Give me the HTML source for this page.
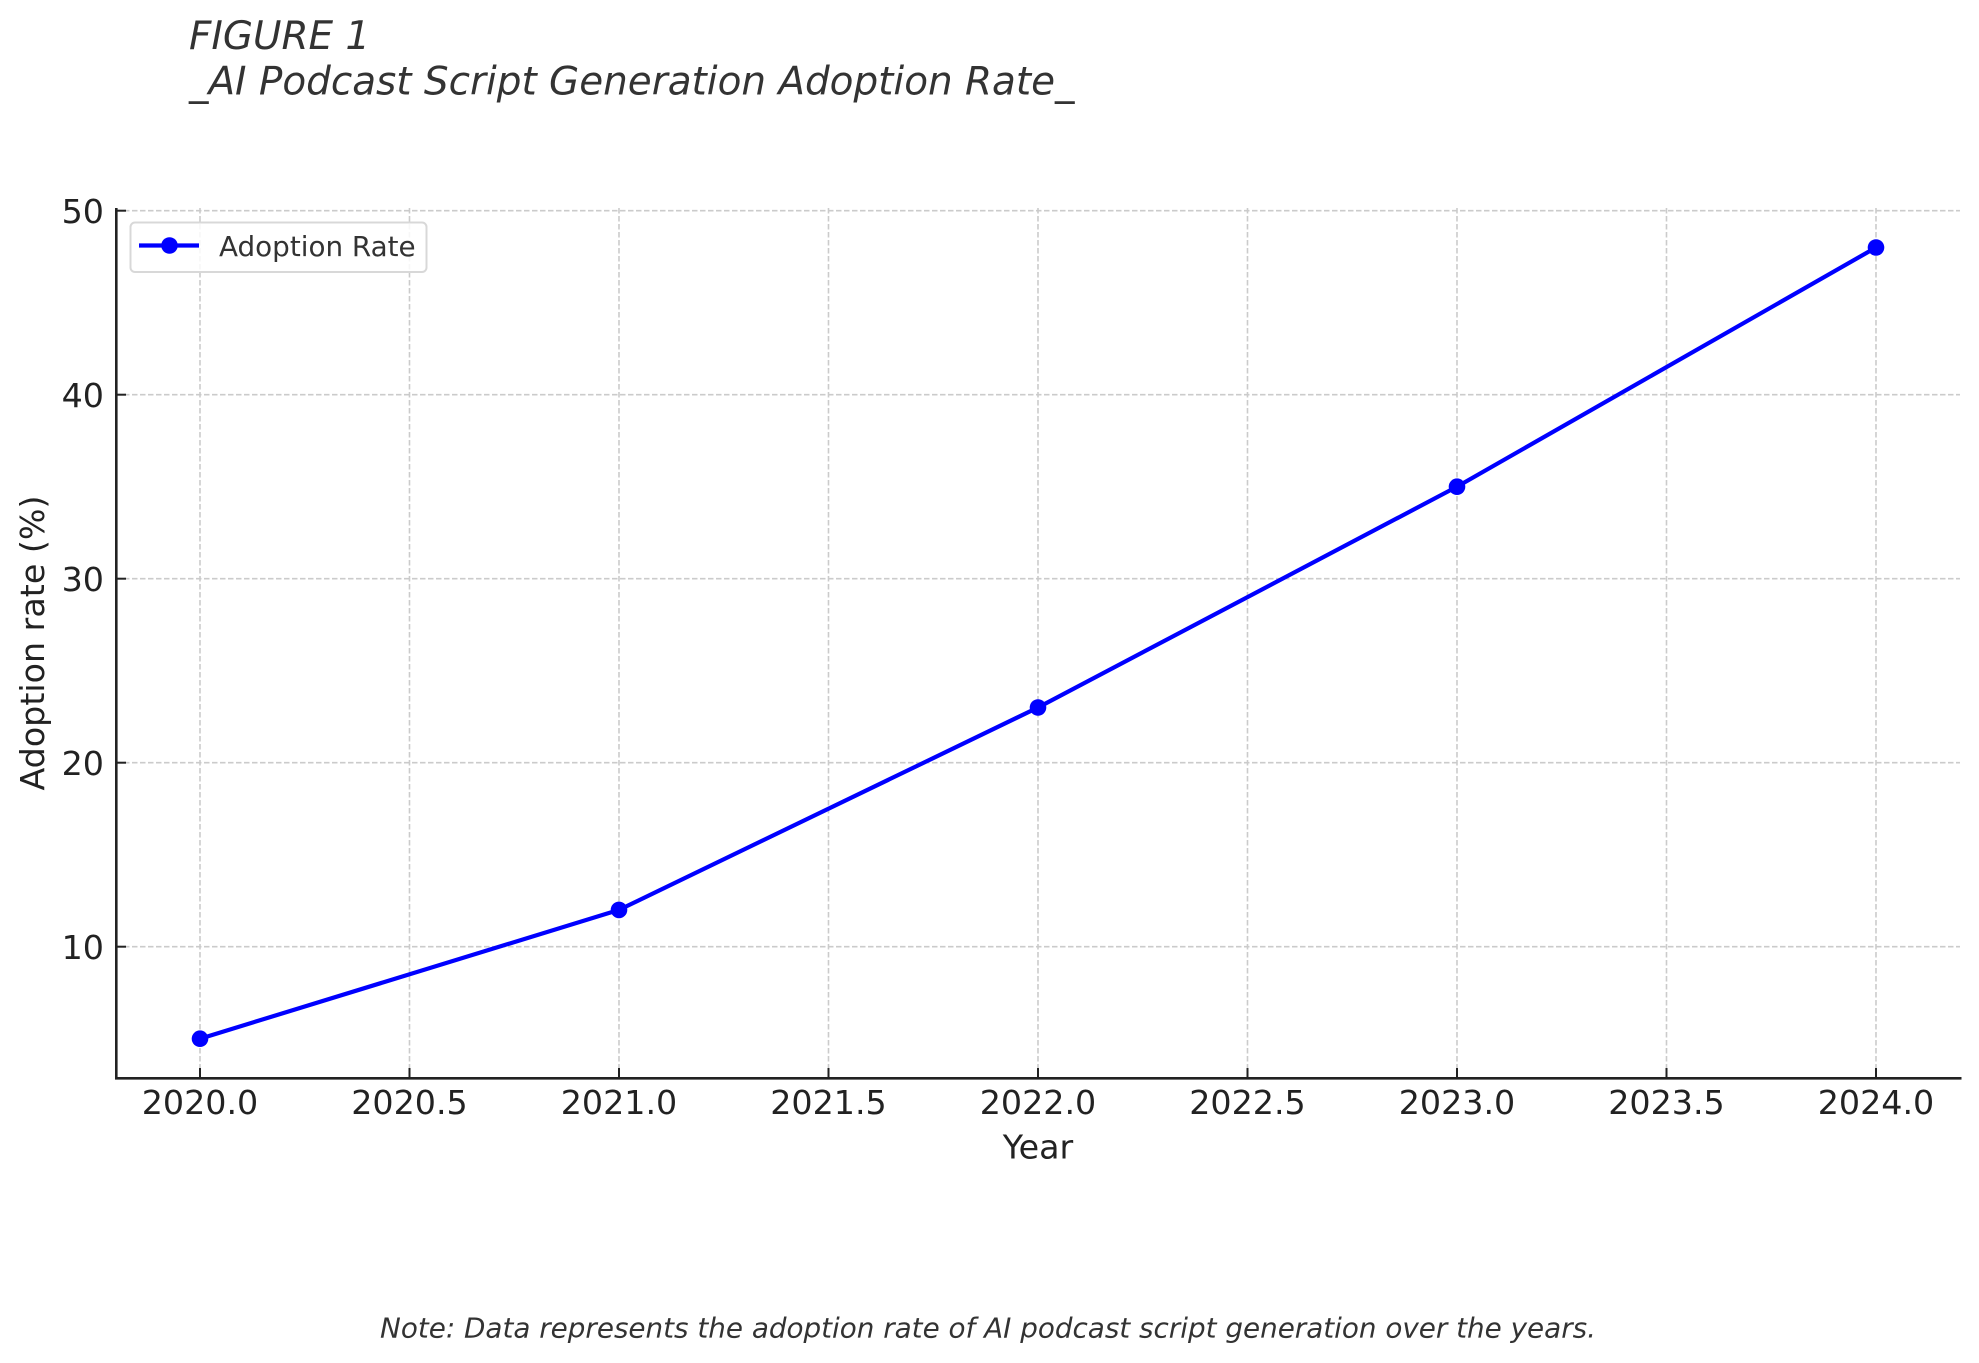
<!DOCTYPE html>
<html>
<head>
<meta charset="utf-8">
<style>
  html, body { margin: 0; padding: 0; background: #ffffff; }
  body { width: 1979px; height: 1363px; overflow: hidden; }
  svg { display: block; }
  text { font-family: "DejaVu Sans", "Liberation Sans", sans-serif; }
</style>
</head>
<body>
<svg width="1979" height="1363" viewBox="0 0 1979 1363" xmlns="http://www.w3.org/2000/svg">
  <rect x="0" y="0" width="1979" height="1363" fill="#ffffff"/>

  <!-- Title -->
  <text x="189" y="48.8" font-size="38.9" font-style="italic" fill="#333333">FIGURE 1</text>
  <text x="189" y="94.3" font-size="38.9" font-style="italic" fill="#333333">_AI Podcast Script Generation Adoption Rate_</text>

  <!-- Grid lines -->
  <g stroke="#cbcbcb" stroke-width="1.6" stroke-dasharray="5.5 2.5" fill="none">
    <line x1="116" y1="210.7" x2="1960" y2="210.7"/>
    <line x1="116" y1="394.7" x2="1960" y2="394.7"/>
    <line x1="116" y1="578.7" x2="1960" y2="578.7"/>
    <line x1="116" y1="762.7" x2="1960" y2="762.7"/>
    <line x1="116" y1="946.7" x2="1960" y2="946.7"/>
    <line x1="200" y1="208" x2="200" y2="1078"/>
    <line x1="409.5" y1="208" x2="409.5" y2="1078"/>
    <line x1="619" y1="208" x2="619" y2="1078"/>
    <line x1="828.5" y1="208" x2="828.5" y2="1078"/>
    <line x1="1038" y1="208" x2="1038" y2="1078"/>
    <line x1="1247.5" y1="208" x2="1247.5" y2="1078"/>
    <line x1="1457" y1="208" x2="1457" y2="1078"/>
    <line x1="1666.5" y1="208" x2="1666.5" y2="1078"/>
    <line x1="1876" y1="208" x2="1876" y2="1078"/>
  </g>

  <!-- Spines -->
  <line x1="116.3" y1="208" x2="116.3" y2="1079.5" stroke="#222222" stroke-width="2.6"/>
  <line x1="115" y1="1078.3" x2="1961.5" y2="1078.3" stroke="#222222" stroke-width="2.6"/>

  <!-- Ticks (inward) -->
  <g stroke="#222222" stroke-width="2">
    <line x1="200" y1="1078" x2="200" y2="1068"/>
    <line x1="409.5" y1="1078" x2="409.5" y2="1068"/>
    <line x1="619" y1="1078" x2="619" y2="1068"/>
    <line x1="828.5" y1="1078" x2="828.5" y2="1068"/>
    <line x1="1038" y1="1078" x2="1038" y2="1068"/>
    <line x1="1247.5" y1="1078" x2="1247.5" y2="1068"/>
    <line x1="1457" y1="1078" x2="1457" y2="1068"/>
    <line x1="1666.5" y1="1078" x2="1666.5" y2="1068"/>
    <line x1="1876" y1="1078" x2="1876" y2="1068"/>

    <line x1="116" y1="210.7" x2="126" y2="210.7"/>
    <line x1="116" y1="394.7" x2="126" y2="394.7"/>
    <line x1="116" y1="578.7" x2="126" y2="578.7"/>
    <line x1="116" y1="762.7" x2="126" y2="762.7"/>
    <line x1="116" y1="946.7" x2="126" y2="946.7"/>
  </g>

  <!-- X tick labels -->
  <g font-size="33.3" fill="#222222" text-anchor="middle">
    <text x="200" y="1114">2020.0</text>
    <text x="409.5" y="1114">2020.5</text>
    <text x="619" y="1114">2021.0</text>
    <text x="828.5" y="1114">2021.5</text>
    <text x="1038" y="1114">2022.0</text>
    <text x="1247.5" y="1114">2022.5</text>
    <text x="1457" y="1114">2023.0</text>
    <text x="1666.5" y="1114">2023.5</text>
    <text x="1876" y="1114">2024.0</text>
  </g>

  <!-- Y tick labels -->
  <g font-size="33.3" fill="#222222" text-anchor="end">
    <text x="104" y="222.8">50</text>
    <text x="104" y="406.8">40</text>
    <text x="104" y="590.8">30</text>
    <text x="104" y="774.8">20</text>
    <text x="104" y="958.8">10</text>
  </g>

  <!-- Axis labels -->
  <text x="1038" y="1158.3" font-size="33.3" fill="#222222" text-anchor="middle">Year</text>
  <text transform="translate(44,643) rotate(-90)" x="0" y="0" font-size="33.3" fill="#222222" text-anchor="middle">Adoption rate (%)</text>

  <!-- Data line -->
  <polyline points="200,1038.7 619,909.9 1038,707.5 1457,486.7 1876,247.5" fill="none" stroke="#0000ff" stroke-width="4.2" stroke-linejoin="round" stroke-linecap="square"/>
  <g fill="#0000ff">
    <circle cx="200" cy="1038.7" r="8.3"/>
    <circle cx="619" cy="909.9" r="8.3"/>
    <circle cx="1038" cy="707.5" r="8.3"/>
    <circle cx="1457" cy="486.7" r="8.3"/>
    <circle cx="1876" cy="247.5" r="8.3"/>
  </g>

  <!-- Legend -->
  <rect x="130.5" y="222.5" width="296" height="49.5" rx="4.5" ry="4.5" fill="#ffffff" fill-opacity="0.85" stroke="#d8d8d8" stroke-width="2"/>
  <line x1="139" y1="245.5" x2="199" y2="245.5" stroke="#0000ff" stroke-width="4.2"/>
  <circle cx="169.5" cy="245.5" r="8.3" fill="#0000ff"/>
  <text x="219" y="255.8" font-size="27.8" fill="#333333">Adoption Rate</text>

  <!-- Note -->
  <text x="988" y="1337.3" font-size="27.8" font-style="italic" fill="#333333" text-anchor="middle">Note: Data represents the adoption rate of AI podcast script generation over the years.</text>
</svg>
</body>
</html>
